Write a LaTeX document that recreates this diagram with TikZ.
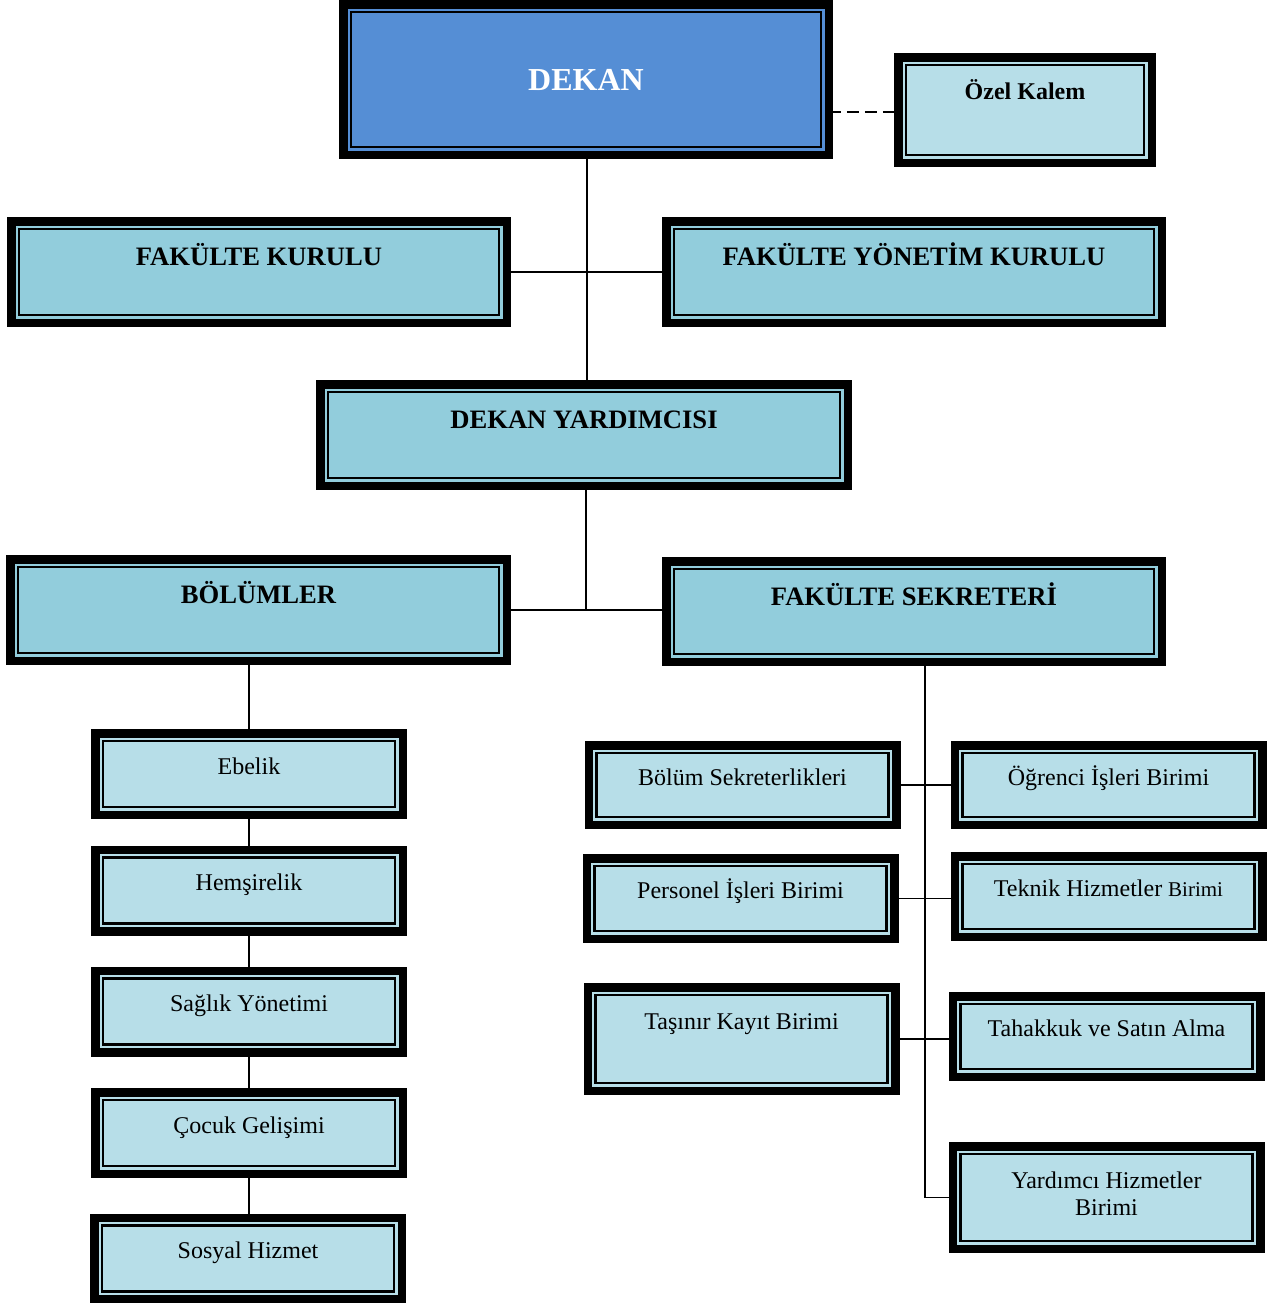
\documentclass[tikz,border=0pt]{standalone}
\usepackage{fontspec}
\setmainfont{Liberation Serif}
\usetikzlibrary{positioning}
\definecolor{dekanblue}{RGB}{85,142,213}
\definecolor{headaqua}{RGB}{146,205,220}
\definecolor{unitaqua}{RGB}{183,222,232}
\tikzset{
  box/.style={draw=black,line width=4.25pt,outer sep=0pt,inner sep=0pt,
    font=\fontsize{12}{14.4}\selectfont},
  head/.style={box,fill=headaqua,font=\bfseries\fontsize{13.3}{16}\selectfont,
    minimum height=50.75pt},
  unit/.style={box,fill=unitaqua,minimum width=153.75pt,minimum height=39.75pt},
  tx/.style={text height=0pt,text depth=#1},
  tx/.default=-0.5pt,
  link/.style={line width=0.9pt},
}
\begin{document}
\begin{tikzpicture}[x=0.5pt,y=-0.5pt]
\useasboundingbox (0,0) rectangle (1282,1303);
% top level
\node[box,fill=dekanblue,text=white,font=\bfseries\fontsize{16}{19}\selectfont,
  minimum width=242.75pt,minimum height=75.25pt] at(586,79.5)(dekan) {DEKAN};
\node[box,fill=unitaqua,font=\bfseries\fontsize{12}{14.4}\selectfont,tx=11pt,
  minimum width=126.75pt,minimum height=52.75pt] at(1025,110)(ozel) {Özel Kalem};
\node[head,tx=6.7pt,minimum width=247.75pt] at(259,272)(fk) {FAKÜLTE KURULU};
\node[head,tx=6.7pt,minimum width=247.75pt] at(914,272)(fyk) {FAKÜLTE YÖNETİM KURULU};
\node[head,tx=6.7pt,minimum width=263.75pt] at(584,435)(dy) {DEKAN YARDIMCISI};
\node[head,tx=6.7pt,minimum width=248.25pt] at(258.5,610)(bol) {BÖLÜMLER};
\node[head,tx=6.2pt,minimum width=247.75pt,minimum height=50.25pt] at(914,611.5)(fs) {FAKÜLTE SEKRETERİ};
% departments
\node[unit,tx,minimum height=40.75pt] at(249,774)(ebe) {Ebelik};
\node[unit,tx,minimum height=40.75pt] at(249,890.5)(hem) {Hemşirelik};
\node[unit,tx,minimum height=40.75pt] at(249,1011.5)(sag) {Sağlık Yönetimi};
\node[unit,tx,minimum height=40.75pt] at(249,1133)(coc) {Çocuk Gelişimi};
\node[unit,tx,minimum height=40.75pt] at(248,1258.5)(sos) {Sosyal Hizmet};
% secretariat units
\node[unit,tx] at(742.5,785)(bs) {Bölüm Sekreterlikleri};
\node[unit,tx] at(1108.5,785)(ob) {Öğrenci İşleri Birimi};
\node[unit,tx,minimum height=40.25pt] at(740.5,898.5)(pib) {Personel İşleri Birimi};
\node[unit,tx,minimum height=40.25pt] at(1108.5,896.5)(thb) {Teknik Hizmetler {\fontsize{10.5}{12}\selectfont Birimi}};
\node[unit,tx=9.6pt,minimum height=51.75pt] at(741.5,1039)(tkb) {Taşınır Kayıt Birimi};
\node[unit,tx,minimum height=40.25pt] at(1106.5,1036.5)(tsa) {Tahakkuk ve Satın Alma};
\node[unit,align=center,text depth=4pt,font=\fontsize{12}{13.5}\selectfont,
  minimum height=51.25pt] at(1106.5,1197.5)(yhb) {Yardımcı Hizmetler\\Birimi};
% inner frames
\foreach \b in {dekan,ozel,fk,fyk,dy,bol,fs,ebe,hem,sag,coc,sos,bs,ob,pib,thb,tkb,tsa,yhb}
  \draw[line width=1.35pt] ([shift={(3.9pt,3.9pt)}]\b.south west) rectangle ([shift={(-3.9pt,-3.9pt)}]\b.north east);
% connectors
\coordinate (trunk) at(925,0);
\draw[link] (dy.north -| 587,0) -- (dekan.south -| 587,0);
\draw[link] (fk) -- (fyk);
\draw[link,dashed,dash pattern=on 6pt off 3pt] (dekan.east |- 0,112) -- (ozel.west |- 0,112);
\draw[link] (dy.south -| 586,0) -- (bol.east -| 586,0);
\draw[link] (bol.east) -- (bol.east -| fs.west);
\draw[link] (bol.south -| ebe.north) -- (ebe.north);
\draw[link] (ebe) -- (hem);
\draw[link] (hem) -- (sag);
\draw[link] (sag) -- (coc);
\draw[link] (coc.south) -- (coc.south |- sos.north);
\draw[link] (fs.south -| trunk) |- (yhb.west);
\draw[link] (bs.east) -- (ob.west);
\draw[link] (pib.east) -- (pib.east -| thb.west);
\draw[link] (tkb.east) -- (tkb.east -| tsa.west);
\end{tikzpicture}
\end{document}
